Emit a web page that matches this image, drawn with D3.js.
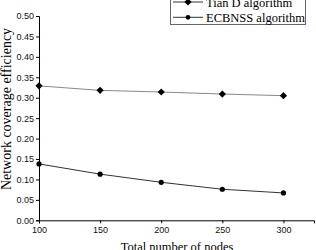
<!DOCTYPE html>
<html><head><meta charset="utf-8">
<script src="https://cdn.jsdelivr.net/npm/d3@7"></script>
<style>html,body{margin:0;padding:0;background:#fff;overflow:hidden}</style>
</head><body>
<svg id="c" width="316" height="250"></svg>
<script>
const nodes = [100, 150, 200, 250, 300];
const tianD = [0.329, 0.318, 0.314, 0.309, 0.305];
const ecbnss = [0.138, 0.113, 0.093, 0.076, 0.067];
const seriesNames = ["Tian D algorithm", "ECBNSS algorithm"];
const yTicks = [0, 0.05, 0.10, 0.15, 0.20, 0.25, 0.30, 0.35, 0.40, 0.45, 0.50];
const xTicks = [100, 150, 200, 250, 300];

const svg = d3.select("#c");
const x = d3.scaleLinear().domain([100, 325]).range([39, 314]);
const y = d3.scaleLinear().domain([0, 0.5]).range([220.3, 16]);

const sans = "Liberation Sans, Arial, sans-serif";
const serif = "Liberation Serif, Times New Roman, serif";

const yAxis = svg.append("g").attr("transform", "translate(39,0)")
  .call(d3.axisLeft(y).tickValues(yTicks).tickFormat(d3.format(".2f")).tickSize(3).tickPadding(2));
const xAxis = svg.append("g").attr("transform", "translate(0,220.3)")
  .call(d3.axisBottom(x).tickValues(xTicks).tickFormat(d3.format("d")).tickSize(3).tickPadding(3));
[yAxis, xAxis].forEach(a => {
  a.selectAll("text").attr("font-family", sans).attr("font-size", 9).attr("fill", "#111");
  a.selectAll("line,path").attr("stroke", "#000").attr("stroke-width", 1);
});

const line = d3.line().x((d, i) => x(nodes[i])).y(d => y(d));
svg.append("path").datum(tianD).attr("d", line).attr("fill", "none").attr("stroke", "#888").attr("stroke-width", 1);
svg.append("path").datum(ecbnss).attr("d", line).attr("fill", "none").attr("stroke", "#333").attr("stroke-width", 1);

const diamond = "M0,-3.6L3.6,0L0,3.6L-3.6,0Z";
svg.append("g").selectAll("path").data(tianD).join("path")
  .attr("d", diamond).attr("transform", (d, i) => `translate(${x(nodes[i])},${y(d)})`).attr("fill", "#000");
svg.append("g").selectAll("circle").data(ecbnss).join("circle")
  .attr("cx", (d, i) => x(nodes[i])).attr("cy", d => y(d)).attr("r", 2.6).attr("fill", "#000");

// axis titles
svg.append("text").attr("x", 177).attr("y", 250.5).attr("text-anchor", "middle")
  .attr("font-family", serif).attr("font-size", 12.5).text("Total number of nodes");
svg.append("text").attr("transform", "translate(10.5,109) rotate(-90)").attr("text-anchor", "middle")
  .attr("font-family", serif).attr("font-size", 14).text("Network coverage efficiency");

// legend
const lg = svg.append("g");
lg.append("rect").attr("x", 170.5).attr("y", -10).attr("width", 135).attr("height", 34.5)
  .attr("fill", "#fff").attr("stroke", "#666").attr("stroke-width", 1);
const ly = [2, 17.3];
seriesNames.forEach((n, i) => {
  lg.append("line").attr("x1", 173).attr("x2", 203).attr("y1", ly[i]).attr("y2", ly[i])
    .attr("stroke", "#333").attr("stroke-width", 1);
  if (i === 0) lg.append("path").attr("d", diamond).attr("transform", `translate(188,${ly[i]})`).attr("fill", "#000");
  else lg.append("circle").attr("cx", 188).attr("cy", ly[i]).attr("r", 2.4).attr("fill", "#000");
  lg.append("text").attr("x", 206).attr("y", ly[i] + 4.5).attr("font-family", serif).attr("font-size", 12.5).text(n);
});
</script>
</body></html>
